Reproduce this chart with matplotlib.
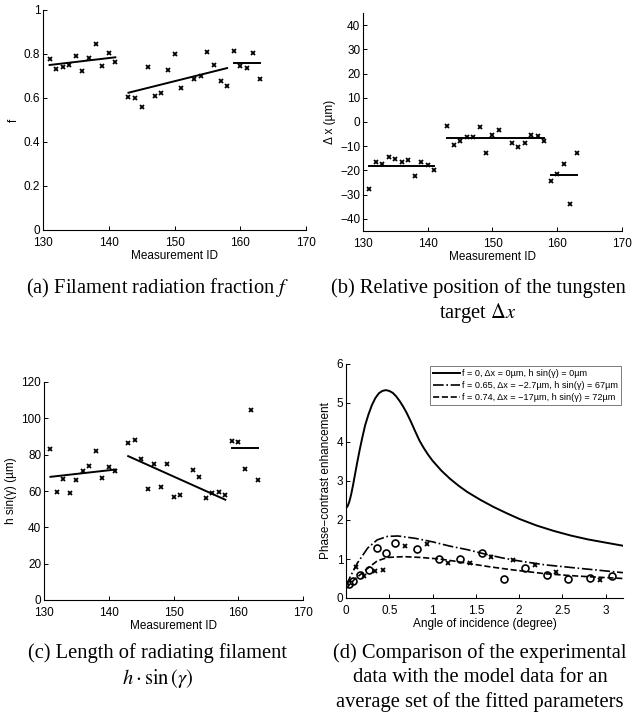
import matplotlib.pyplot as plt
from matplotlib.ticker import FormatStrFormatter

plt.rcParams["font.family"] = ["Liberation Sans", "DejaVu Sans"]
plt.rcParams["mathtext.fontset"] = "stix"
plt.rcParams["font.size"] = 8.5

# measurement IDs (142 and 152 missing)
ids = [131, 132, 133, 134, 135, 136, 137, 138, 139, 140, 141,
       143, 144, 145, 146, 147, 148, 149, 150, 151,
       153, 154, 155, 156, 157, 158, 159, 160, 161, 162, 163]

frac = [0.776, 0.732, 0.741, 0.748, 0.789, 0.723, 0.783, 0.847, 0.744, 0.805, 0.762,
        0.606, 0.602, 0.561, 0.742, 0.611, 0.623, 0.729, 0.798, 0.645,
        0.685, 0.698, 0.809, 0.752, 0.676, 0.656, 0.814, 0.747, 0.738, 0.806, 0.685]

dx = [-27.6, -16.6, -17.5, -14.6, -15.3, -16.7, -15.7, -22.1, -16.6, -17.9, -20.0,
      -1.8, -9.7, -7.7, -6.3, -6.3, -2.2, -12.7, -5.5, -3.2,
      -8.8, -10.3, -8.6, -5.5, -5.8, -7.7, -24.3, -21.4, -17.2, -33.9, -13.0]

hsin = [82.9, 59.7, 66.5, 59.1, 66.1, 70.9, 73.8, 81.8, 66.9, 73.3, 70.9,
        86.2, 88.2, 77.5, 61.1, 75.0, 62.2, 75.0, 56.5, 57.6,
        71.6, 67.8, 56.0, 59.1, 59.5, 57.6, 87.7, 87.1, 72.0, 104.4, 66.3]

# fitted lines per group (start id, end id)
fit_ids = [(131, 141), (143, 158), (159, 163)]
frac_fit = [(0.750, 0.785), (0.624, 0.736), (0.759, 0.759)]
dx_fit = [(-18.2, -18.2), (-6.8, -6.8), (-21.8, -21.8)]
hsin_fit = [(67.8, 71.8), (79.2, 55.2), (83.4, 83.4)]

# (d) model curves
ang_f0 = [0, 0.02, 0.04, 0.06, 0.08, 0.10, 0.13, 0.16, 0.19, 0.22, 0.26, 0.30,
          0.34, 0.38, 0.42, 0.46, 0.50, 0.54, 0.58, 0.62, 0.66, 0.70, 0.75,
          0.80, 0.85, 0.90, 0.95, 1.0, 1.1, 1.2, 1.3, 1.4, 1.55, 1.7, 1.85,
          2.0, 2.2, 2.4, 2.6, 2.8, 3.0, 3.2]
enh_f0 = [2.30, 2.36, 2.48, 2.66, 2.88, 3.12, 3.48, 3.82, 4.13, 4.42, 4.71, 4.95,
          5.13, 5.25, 5.31, 5.33, 5.31, 5.26, 5.17, 5.05, 4.91, 4.75, 4.52,
          4.27, 4.03, 3.84, 3.67, 3.52, 3.27, 3.06, 2.88, 2.72, 2.52, 2.34, 2.18,
          2.03, 1.86, 1.72, 1.60, 1.50, 1.42, 1.34]

ang_f065 = [0, 0.05, 0.13, 0.25, 0.36, 0.48, 0.6, 0.8, 1.0, 1.2, 1.4, 1.6, 1.8,
            2.0, 2.3, 2.7, 3.2]
enh_f065 = [0.30, 0.55, 0.89, 1.28, 1.49, 1.58, 1.59, 1.53, 1.44, 1.33, 1.24,
            1.13, 1.03, 0.95, 0.85, 0.76, 0.65]

ang_f074 = [0, 0.09, 0.25, 0.36, 0.48, 0.67, 0.86, 1.08, 1.27, 1.46, 1.66, 1.93,
            2.31, 2.69, 3.2]
enh_f074 = [0.24, 0.46, 0.76, 0.95, 1.04, 1.06, 1.04, 1.00, 0.94, 0.87, 0.80,
            0.72, 0.62, 0.56, 0.50]

# (d) measured data, two sets
ang_o = [0.03, 0.08, 0.165, 0.26, 0.36, 0.46, 0.57, 0.82, 1.07, 1.32, 1.57,
         1.82, 2.07, 2.32, 2.57, 2.82, 3.07]
enh_o = [0.37, 0.44, 0.58, 0.73, 1.29, 1.15, 1.40, 1.26, 1.00, 0.99, 1.16,
         0.48, 0.77, 0.58, 0.49, 0.51, 0.56]
ang_x = [0.015, 0.12, 0.21, 0.33, 0.43, 0.68, 0.93, 1.18, 1.43, 1.68, 1.93,
         2.18, 2.43, 2.93]
enh_x = [0.38, 0.79, 0.57, 0.68, 0.72, 1.34, 1.39, 0.90, 0.91, 1.06, 0.98,
         0.84, 0.66, 0.47]

W, H = 632, 715
fig = plt.figure(figsize=(W / 100, H / 100), dpi=100)


def rect(x0, x1, y0, y1):
    return [x0 / W, 1 - y1 / H, (x1 - x0) / W, (y1 - y0) / H]


def style(ax):
    ax.spines["top"].set_visible(False)
    ax.spines["right"].set_visible(False)
    for s in ("left", "bottom"):
        ax.spines[s].set_linewidth(0.8)
    ax.tick_params(direction="in", length=3, width=0.7, labelsize=8.5)
    ax.tick_params(axis="x", pad=5)
    ax.tick_params(axis="y", pad=2)


def scatter_panel(ax, vals, fits, ylim, yticks, ylabel):
    ax.plot(ids, vals, "x", color="black", ms=3.5, mew=1.3)
    for (a, b), (ya, yb) in zip(fit_ids, fits):
        ax.plot([a, b], [ya, yb], color="black", lw=1.4)
    ax.set_xlim(130, 170)
    ax.set_ylim(*ylim)
    ax.set_xticks([130, 140, 150, 160, 170])
    ax.set_yticks(yticks)
    ax.set_xlabel("Measurement ID", labelpad=1)
    ax.set_ylabel(ylabel, labelpad=3)
    style(ax)


ax1 = fig.add_axes(rect(43, 306, 10, 230))
scatter_panel(ax1, frac, frac_fit, (0, 1), [0, 0.2, 0.4, 0.6, 0.8, 1], "f")
ax1.yaxis.set_major_formatter(FormatStrFormatter("%g"))

ax2 = fig.add_axes(rect(363, 622, 13, 231))
scatter_panel(ax2, dx, dx_fit, (-45, 45), list(range(-40, 41, 10)), "Δ x (µm)")

ax3 = fig.add_axes(rect(44, 303, 382, 600))
scatter_panel(ax3, hsin, hsin_fit, (0, 120), list(range(0, 121, 20)), "h sin(γ) (µm)")

ax4 = fig.add_axes(rect(346, 623, 364, 598))
ax4.plot(ang_f0, enh_f0, "-", color="black", lw=1.4,
         label="f = 0, Δx = 0µm, h sin(γ) = 0µm")
ax4.plot(ang_f065, enh_f065, "-.", color="black", lw=1.2,
         label="f = 0.65, Δx = \u22122.7µm, h sin(γ) = 67µm")
ax4.plot(ang_f074, enh_f074, "--", color="black", lw=1.2,
         label="f = 0.74, Δx = \u221217µm, h sin(γ) = 72µm")
ax4.plot(ang_o, enh_o, "o", mfc="none", mec="black", ms=5, mew=1.2)
ax4.plot(ang_x, enh_x, "x", color="black", ms=3.5, mew=1.3)
ax4.set_xlim(0, 3.2)
ax4.set_ylim(0, 6)
ax4.set_xticks([0, 0.5, 1, 1.5, 2, 2.5, 3])
ax4.xaxis.set_major_formatter(FormatStrFormatter("%g"))
ax4.set_yticks(range(0, 7))
ax4.set_xlabel("Angle of incidence (degree)", labelpad=1)
ax4.set_ylabel("Phase\u2212contrast enhancement", labelpad=3)
style(ax4)
leg = ax4.legend(loc="upper right", bbox_to_anchor=(1.0, 1.0), fontsize=6.6,
                 fancybox=False, edgecolor="0.35", handlelength=2.9,
                 borderpad=0.35, labelspacing=0.3, borderaxespad=0.25,
                 handletextpad=0.2)
leg.get_frame().set_linewidth(0.7)

cap = dict(ha="center", va="center", family=["Liberation Serif", "DejaVu Serif"], size=14.8)
fig.text(158 / W, 1 - 288 / H, "(a) Filament radiation fraction $f$", **cap)
fig.text(478 / W, 1 - 288 / H, "(b) Relative position of the tungsten", **cap)
fig.text(478 / W, 1 - 313 / H, r"target $\Delta x$", **cap)
fig.text(158 / W, 1 - 653 / H, "(c) Length of radiating filament", **cap)
fig.text(158 / W, 1 - 678 / H, r"$h \cdot \sin\left(\gamma\right)$", **cap)
fig.text(480 / W, 1 - 653 / H, "(d) Comparison of the experimental", **cap)
fig.text(480 / W, 1 - 678 / H, "data with the model data for an", **cap)
fig.text(480 / W, 1 - 702 / H, "average set of the fitted parameters", **cap)

fig.savefig("out.png", dpi=100)
